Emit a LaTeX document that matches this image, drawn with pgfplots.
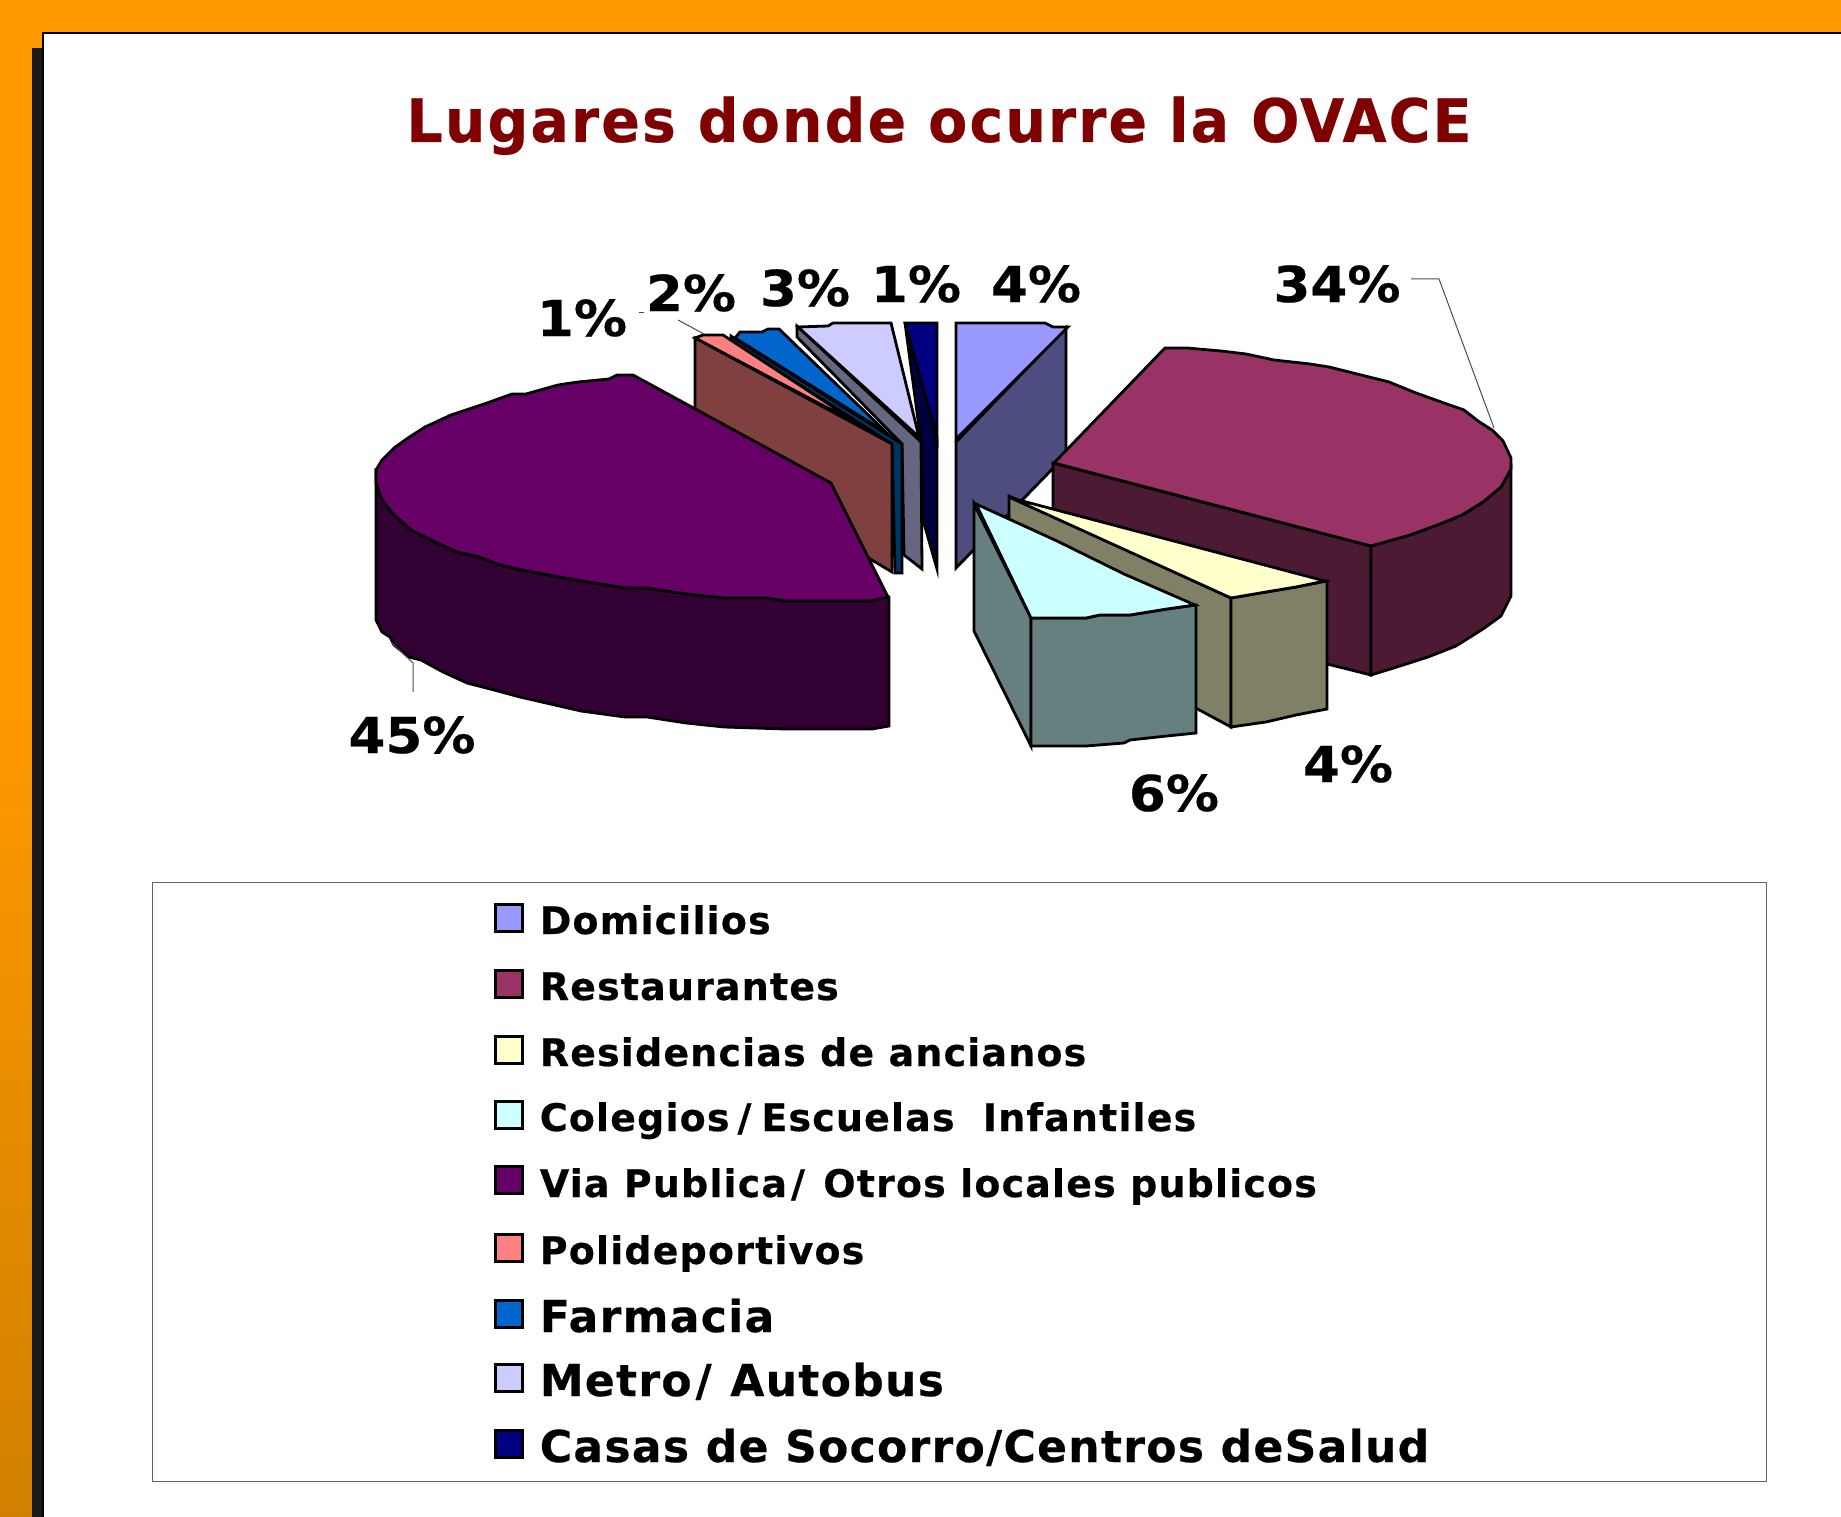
\documentclass[border=0pt]{standalone}
\usepackage{fontspec}
\setmainfont{DejaVu Sans}
\newfontfamily\titlefont{DejaVu Sans Bold}[LetterSpace=3.5, FakeStretch=0.95, FakeBold=0.4]
\newfontfamily\legfont{DejaVu Sans Bold}[LetterSpace=3, FakeBold=0.4]
\newfontfamily\pctfont{DejaVu Sans Bold}[FakeStretch=1.07, FakeBold=0.4]
\usepackage{pgfplots}
\pgfplotsset{compat=1.18}
\definecolor{domTop}{HTML}{9999FF}\definecolor{domSide}{HTML}{4D4D80}
\definecolor{resTop}{HTML}{993366}\definecolor{resSide}{HTML}{4D1A33}
\definecolor{ancTop}{HTML}{FFFFCC}\definecolor{ancSide}{HTML}{808066}
\definecolor{colTop}{HTML}{CCFFFF}\definecolor{colSide}{HTML}{668080}
\definecolor{viaTop}{HTML}{660066}\definecolor{viaSide}{HTML}{330033}
\definecolor{polTop}{HTML}{FF8080}\definecolor{polSide}{HTML}{804040}
\definecolor{farTop}{HTML}{0066CC}\definecolor{farSide}{HTML}{003366}
\definecolor{metTop}{HTML}{CCCCFF}\definecolor{metSide}{HTML}{666680}
\definecolor{casTop}{HTML}{000080}\definecolor{casSide}{HTML}{000040}
\definecolor{slideOrange}{HTML}{FF9900}
\definecolor{slideDark}{HTML}{D08000}
\definecolor{titleRed}{HTML}{800000}
\tikzset{
  pc/.style={draw=black, line width=0.7pt, line join=miter, fill=#1, mark=none},
  leader/.style={draw=black!70, line width=0.25pt, mark=none},
  pct/.style={font=\fontsize{12.4}{14}\pctfont, inner sep=0pt},
  legtxt/.style={font=\fontsize{#1}{12}\legfont, anchor=base west, inner sep=0pt},
  key/.style={only marks, mark=square*, mark size=3.4pt,
              mark options={draw=black, line width=0.85pt, fill=#1}},
}
\begin{document}
\begin{tikzpicture}
\begin{axis}[
  scale only axis, width=460.25pt, height=379.25pt,
  xmin=0, xmax=1841, ymin=0, ymax=1517, y dir=reverse,
  hide axis,
]
% slide background
\addplot[draw=none, fill=slideOrange, mark=none] coordinates {(0,0) (1841,0) (1841,33) (44,33) (44,700) (0,700)} --cycle;
\addplot[draw=none, top color=slideOrange, bottom color=slideDark, mark=none] coordinates {(0,700) (32,700) (32,1517) (0,1517)} --cycle;
\addplot[draw=none, fill=black!90, mark=none] coordinates {(32,48) (44,48) (44,1517) (32,1517)} --cycle;
\addplot[draw=black, line width=0.3pt, fill=white, mark=none] coordinates {(43,33) (1845,33) (1845,1520) (43,1520)} --cycle;

% rear slices
\addplot[pc=casSide] coordinates {(905,323) (937,438) (937,569) (923,520) (921,442)} --cycle;
\addplot[pc=casTop] coordinates {(905,323) (937,323) (937,438)} --cycle;
\addplot[pc=metSide] coordinates {(797,326) (797,337) (902,444) (904,555) (922,569) (921,442)} --cycle;
\addplot[pc=metTop] coordinates {(798,327) (828,326) (833,323) (891,323) (919,437)} --cycle;
\addplot[pc=farSide] coordinates {(731,336) (731,341) (892,444) (895,573) (902,573) (902,444)} --cycle;
\addplot[pc=farTop] coordinates {(735,338) (740,332) (762,332) (768,329) (779,329) (887,433)} --cycle;
\addplot[pc=polTop] coordinates {(695,338) (703,335) (723,335) (862,426)} --cycle;
\addplot[pc=polSide] coordinates {(695,338) (892,444) (892,572) (860,553) (700,440) (695,410)} --cycle;

% via publica
\addplot[pc=viaSide] coordinates {(376,470) (376,620) (382,632) (390,637) (394,645) (409,657) (421,660) (443,672) (467,683) (494,690) (520,697) (581,711) (625,717) (647,717) (686,723) (724,727) (785,729) (872,729) (889,726) (889,597)} --cycle;
\addplot[pc=viaTop] coordinates {(633,375) (617,375) (609,379) (578,382) (558,385) (526,394) (512,394) (487,403) (451,415) (425,427) (408,438) (394,448) (382,460) (376,470) (376,483) (382,500) (394,515) (411,530) (435,542) (457,552) (479,557) (500,565) (522,570) (570,579) (625,588) (647,588) (686,594) (724,598) (767,598) (785,601) (870,601) (888,597) (831,483)} --cycle;

% domicilios
\addplot[pc=domSide] coordinates {(956,442) (1066,328) (1066,455) (956,568)} --cycle;
\addplot[pc=domTop] coordinates {(956,323) (1045,323) (1053,327) (1068,327) (956,439)} --cycle;

% restaurantes
\addplot[pc=resSide] coordinates {(1053,463) (1053,510) (1327,664) (1371,675) (1371,546)} --cycle;
\addplot[pc=resSide] coordinates {(1371,546) (1371,675) (1400,666) (1428,657) (1456,646) (1483,629) (1501,616) (1511,596) (1511,469) (1501,487) (1483,502) (1462,515) (1440,524) (1410,535)} --cycle;
\addplot[pc=resTop] coordinates {(1165,348) (1187,348) (1221,351) (1246,354) (1274,360) (1310,364) (1329,367) (1361,375) (1389,382) (1416,393) (1444,403) (1464,410) (1478,421) (1492,430) (1503,441) (1511,458) (1511,469) (1501,487) (1483,502) (1462,515) (1440,524) (1410,535) (1371,546) (1054,463)} --cycle;

% residencias
\addplot[pc=ancSide] coordinates {(1009,496) (1231,598) (1231,727) (1190,705) (1009,540)} --cycle;
\addplot[pc=ancSide] coordinates {(1231,598) (1266,592) (1296,587) (1327,581) (1327,709) (1296,715) (1266,722) (1231,727)} --cycle;
\addplot[pc=ancTop] coordinates {(1011,498) (1325,581) (1296,587) (1266,592) (1231,598)} --cycle;

% colegios
\addplot[pc=colSide] coordinates {(974,504) (1031,618) (1031,746) (974,631)} --cycle;
\addplot[pc=colSide] coordinates {(1031,618) (1086,618) (1100,615) (1124,615) (1130,615) (1167,609) (1196,605) (1196,733) (1167,736) (1130,740) (1124,743) (1086,746) (1031,746)} --cycle;
\addplot[pc=colTop] coordinates {(976,504) (1057,541) (1124,574) (1195,605) (1167,609) (1130,615) (1124,615) (1100,615) (1086,618) (1031,618)} --cycle;

% leader lines
\addplot[leader] coordinates {(1411,279) (1439,279) (1494,428)};
\addplot[leader] coordinates {(413,692) (413,663) (392,643)};
\addplot[leader] coordinates {(639,313) (644,313)};
\addplot[leader] coordinates {(678,320) (704,334)};

% slice labels
\node[pct] at (axis cs:1036,284) {4\%};
\node[pct] at (axis cs:1337,284) {34\%};
\node[pct] at (axis cs:916,284) {1\%};
\node[pct] at (axis cs:805,288) {3\%};
\node[pct] at (axis cs:691,293) {2\%};
\node[pct] at (axis cs:582,318) {1\%};
\node[pct] at (axis cs:412,735) {45\%};
\node[pct] at (axis cs:1174,793) {6\%};
\node[pct] at (axis cs:1348,764) {4\%};

\node[font=\fontsize{15}{18}\titlefont, text=titleRed, anchor=base, inner sep=0pt] at (axis cs:939,142) {Lugares donde ocurre la OVACE};

% legend
\addplot[draw=black!60, line width=0.25pt, fill=white, mark=none] coordinates {(152,882) (1766,882) (1766,1481) (152,1481)} --cycle;
\addplot[key=domTop] coordinates {(509,918)};
\addplot[key=resTop] coordinates {(509,984)};
\addplot[key=ancTop] coordinates {(509,1050)};
\addplot[key=colTop] coordinates {(509,1115)};
\addplot[key=viaTop] coordinates {(509,1180)};
\addplot[key=polTop] coordinates {(509,1248)};
\addplot[key=farTop] coordinates {(509,1314)};
\addplot[key=metTop] coordinates {(509,1378)};
\addplot[key=casTop] coordinates {(509,1444)};
\node[legtxt=9.5] at (axis cs:539,934) {Domicilios};
\node[legtxt=9.5] at (axis cs:539,1000) {Restaurantes};
\node[legtxt=9.5] at (axis cs:539,1066) {Residencias de ancianos};
\node[legtxt=9.5] at (axis cs:539,1131) {Colegios\kern2pt/\kern2.5pt Escuelas\kern3.5pt\ Infantiles};
\node[legtxt=9.5] at (axis cs:539,1197) {Via Publica\kern1pt/\kern1pt\ Otros locales publicos};
\node[legtxt=9.5] at (axis cs:539,1264) {Polideportivos};
\node[legtxt=11] at (axis cs:539,1332) {Farmacia};
\node[legtxt=11] at (axis cs:539,1396) {Metro\kern1pt/\kern0.5pt\ Autobus};
\node[legtxt=11] at (axis cs:539,1462) {Casas de Socorro/Centros deSalud};
\end{axis}
\end{tikzpicture}
\end{document}
